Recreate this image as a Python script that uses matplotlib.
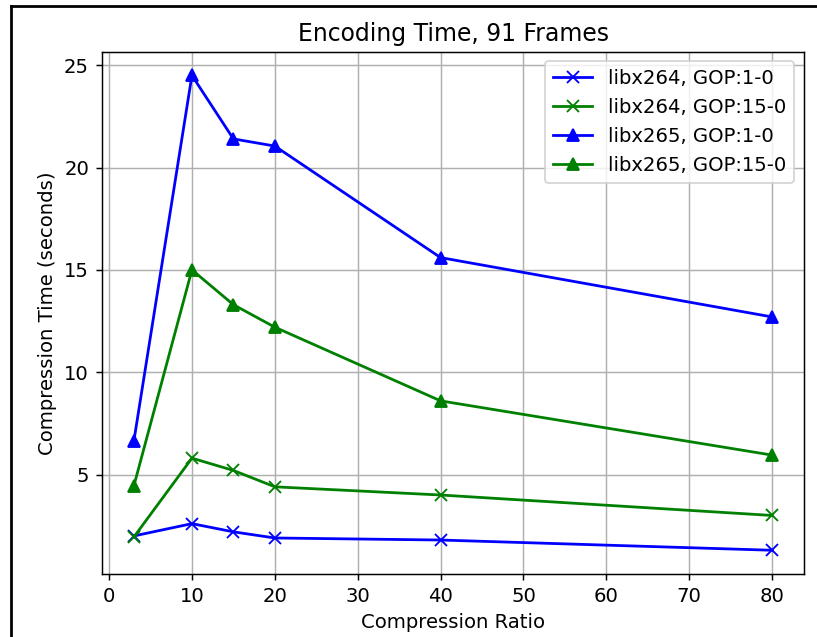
import matplotlib
matplotlib.use("Agg")
import matplotlib.pyplot as plt
from matplotlib.lines import Line2D

compression_ratio = [3, 10, 15, 20, 40, 80]
x264_gop1 = [2.0, 2.6, 2.2, 1.9, 1.8, 1.3]
x264_gop15 = [1.95, 5.8, 5.2, 4.4, 4.0, 3.0]
x265_gop1 = [6.65, 24.5, 21.4, 21.05, 15.6, 12.7]
x265_gop15 = [4.45, 15.0, 13.3, 12.2, 8.6, 5.95]

plt.rcParams["font.size"] = 10.6

DPI = 133
fig = plt.figure(figsize=(817 / DPI, 637 / DPI), dpi=DPI)
ax = fig.add_axes([102 / 817, 1 - 574 / 637, (804 - 102) / 817, (574 - 51.7) / 637])

ax.plot(compression_ratio, x264_gop1, color="blue", marker="x", label="libx264, GOP:1-0")
ax.plot(compression_ratio, x264_gop15, color="green", marker="x", label="libx264, GOP:15-0")
ax.plot(compression_ratio, x265_gop1, color="blue", marker="^", label="libx265, GOP:1-0")
ax.plot(compression_ratio, x265_gop15, color="green", marker="^", label="libx265, GOP:15-0")

ax.set_title("Encoding Time, 91 Frames")
ax.set_xlabel("Compression Ratio")
ax.set_ylabel("Compression Time (seconds)")
ax.set_xticks(range(0, 81, 10))
ax.set_yticks([5, 10, 15, 20, 25])
ax.grid(True)
ax.legend(loc="upper right")

# screenshot frame (top and left edges)
fig.add_artist(Line2D([11 / 817, 11 / 817], [0, 1 - 5.5 / 637], color="black", lw=1.5, transform=fig.transFigure))
fig.add_artist(Line2D([11 / 817, 1], [1 - 5.5 / 637, 1 - 5.5 / 637], color="black", lw=1.5, transform=fig.transFigure))

fig.savefig("out.png", dpi=DPI)
